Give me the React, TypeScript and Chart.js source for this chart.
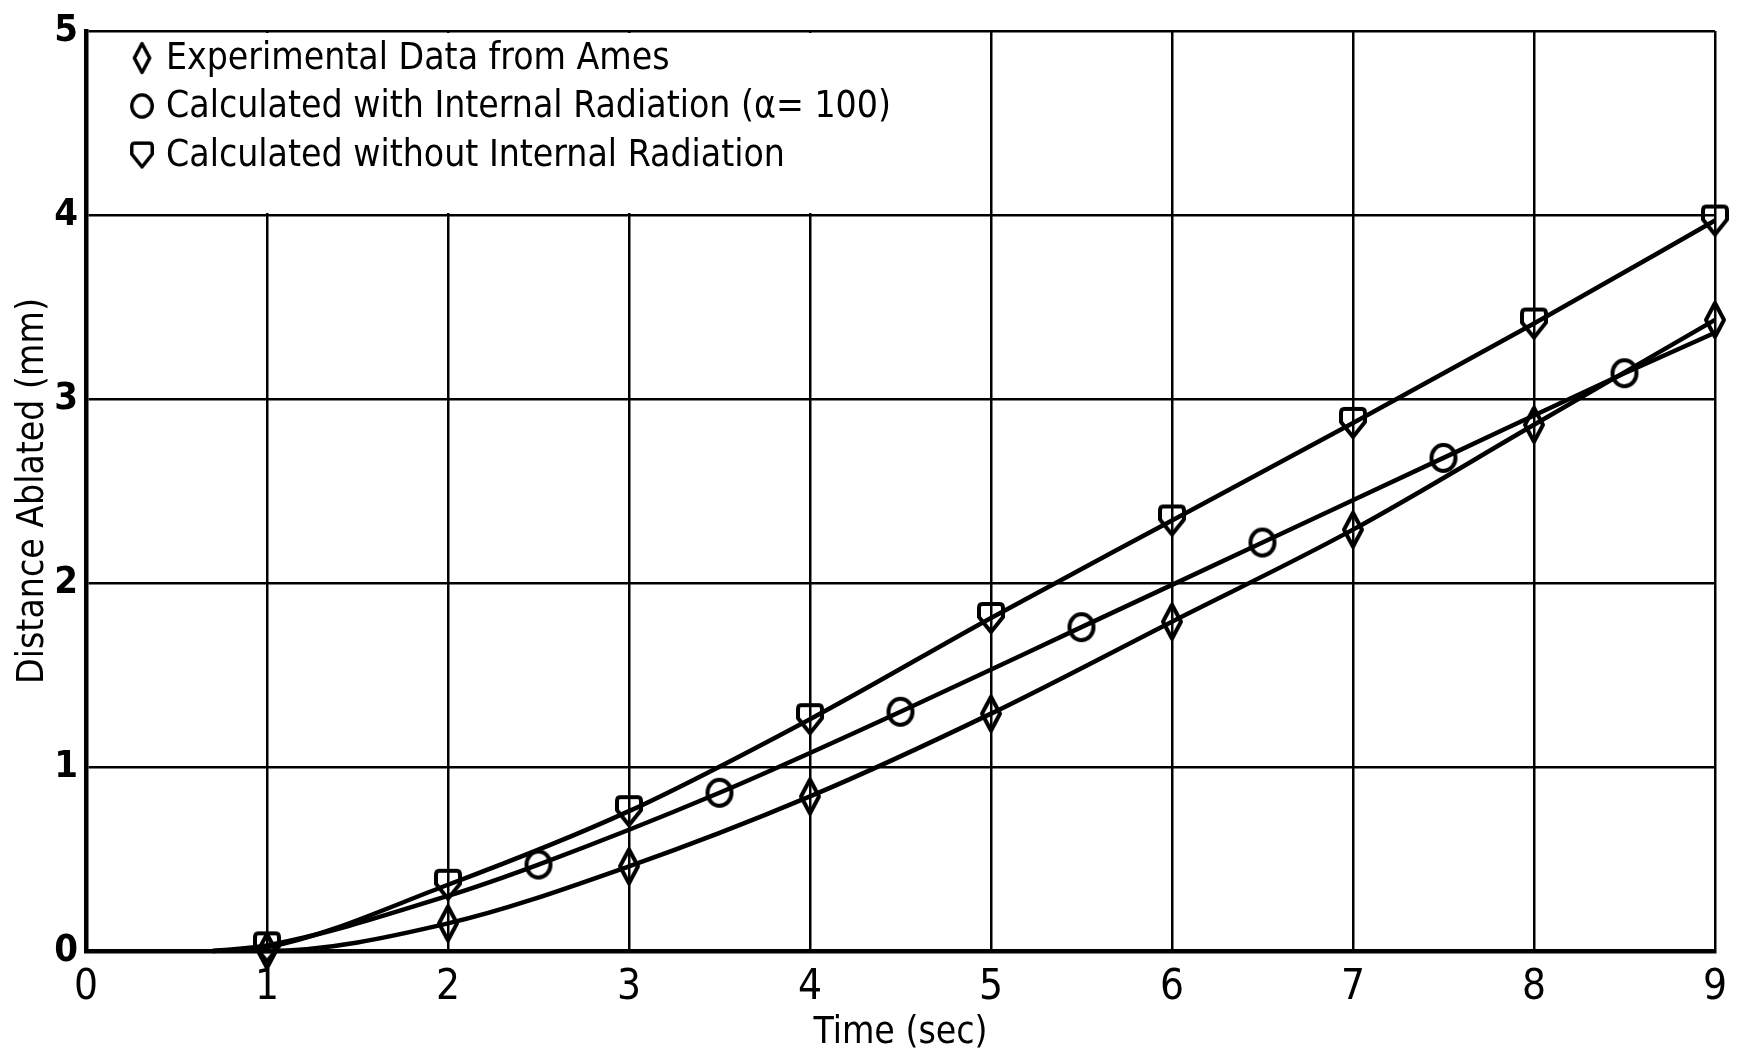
import React, { useEffect, useRef } from "react";
import { Chart, registerables } from "chart.js";

Chart.register(...registerables);

const FONT = '"Liberation Sans Narrow", "DejaVu Sans Condensed", "Roboto Condensed", sans-serif';

// Experimental data from Ames (diamonds)
const expTime = [1, 2, 3, 4, 5, 6, 7, 8, 9];
const expDist = [0.0, 0.15, 0.46, 0.84, 1.29, 1.79, 2.29, 2.86, 3.43];

// Calculated with internal radiation (circles)
const withRadTime = [2.5, 3.5, 4.5, 5.5, 6.5, 7.5, 8.5];
const withRadDist = [0.47, 0.86, 1.3, 1.76, 2.22, 2.68, 3.14];
// unmarked points of the drawn curve
const withRadCurveTime = [0.7, 1, 2, 9];
const withRadCurveDist = [0, 0.03, 0.3, 3.36];

// Calculated without internal radiation (shields)
const noRadTime = [1, 2, 3, 4, 5, 6, 7, 8, 9];
const noRadDist = [0.02, 0.36, 0.76, 1.26, 1.81, 2.34, 2.87, 3.41, 3.97];
const noRadCurveTime = [0.7];
const noRadCurveDist = [0];

const expCurveTime = [0.95];
const expCurveDist = [0];

const legendLabels = [
  "Experimental Data from Ames",
  "Calculated with Internal Radiation (\u03b1= 100)",
  "Calculated without Internal Radiation",
];

const xTitle = "Time (sec)";
const yTitle = "Distance Ablated (mm)";

function makeCanvas(w: number, h: number, draw: (c: CanvasRenderingContext2D) => void) {
  const cv = document.createElement("canvas");
  cv.width = w;
  cv.height = h;
  const c = cv.getContext("2d")!;
  c.strokeStyle = "#000";
  c.lineWidth = 4;
  c.lineJoin = "round";
  draw(c);
  return cv;
}

function buildMarkers() {
  const diamond = makeCanvas(26, 40, (c) => {
    c.beginPath();
    c.moveTo(13, 3);
    c.lineTo(22, 20);
    c.lineTo(13, 37);
    c.lineTo(4, 20);
    c.closePath();
    c.stroke();
  });
  const circle = makeCanvas(32, 34, (c) => {
    c.beginPath();
    c.ellipse(16, 17, 12, 13, 0, 0, Math.PI * 2);
    c.stroke();
  });
  const shield = makeCanvas(32, 36, (c) => {
    c.beginPath();
    c.moveTo(7, 4);
    c.lineTo(25, 4);
    c.quadraticCurveTo(28, 4, 28, 8);
    c.lineTo(28, 17);
    c.lineTo(16, 32);
    c.lineTo(4, 17);
    c.lineTo(4, 8);
    c.quadraticCurveTo(4, 4, 7, 4);
    c.closePath();
    c.stroke();
  });
  return { diamond, circle, shield };
}

function merge(mt: number[], md: number[], ct: number[], cd: number[]) {
  const pts = [
    ...mt.map((x, i) => ({ x, y: md[i], m: true })),
    ...ct.map((x, i) => ({ x, y: cd[i], m: false })),
  ];
  pts.sort((a, b) => a.x - b.x);
  return pts;
}

export default function App() {
  const ref = useRef<HTMLCanvasElement>(null);

  useEffect(() => {
    document.body.style.margin = "0";
    const canvas = ref.current!;
    const mk = buildMarkers();

    const legendPlugin = {
      id: "inlineLegend",
      beforeDatasetsDraw(chart: any) {
        const { ctx, scales } = chart;
        const x = scales.x, y = scales.y;
        const l = x.getPixelForValue(0) + 3;
        const r = x.getPixelForValue(4.6);
        const t = y.getPixelForValue(5) + 2;
        const b = y.getPixelForValue(4) - 2;
        ctx.save();
        ctx.fillStyle = "#fff";
        ctx.fillRect(l, t, r - l, b - t);
        ctx.restore();
      },
      afterDatasetsDraw(chart: any) {
        const { ctx, chartArea } = chart;
        const icons = [mk.diamond, mk.circle, mk.shield];
        const rows = [27, 75, 124];
        ctx.save();
        ctx.fillStyle = "#000";
        ctx.font = `37px ${FONT}`;
        ctx.textBaseline = "middle";
        ctx.textAlign = "left";
        rows.forEach((dy, i) => {
          const cy = chartArea.top + dy;
          const cx = chartArea.left + 56;
          const ic = icons[i];
          const s = 0.85;
          ctx.drawImage(ic, cx - (ic.width * s) / 2, cy - (ic.height * s) / 2, ic.width * s, ic.height * s);
          ctx.fillText(legendLabels[i], chartArea.left + 80, cy + 1);
        });
        ctx.restore();
      },
    };

    const lineDs = (data: any[], icon: HTMLCanvasElement, label: string) => ({
      label,
      data,
      borderColor: "#000",
      backgroundColor: "#000",
      borderWidth: 4.5,
      cubicInterpolationMode: "monotone" as const,
      pointStyle: icon,
      pointRadius: (c: any) => (c.raw && c.raw.m ? 6 : 0),
      pointHoverRadius: 0,
      clip: 30,
    });

    const chart = new Chart(canvas, {
      type: "line",
      data: {
        datasets: [
          lineDs(merge(expTime, expDist, expCurveTime, expCurveDist), mk.diamond, legendLabels[0]),
          lineDs(merge(withRadTime, withRadDist, withRadCurveTime, withRadCurveDist), mk.circle, legendLabels[1]),
          lineDs(merge(noRadTime, noRadDist, noRadCurveTime, noRadCurveDist), mk.shield, legendLabels[2]),
        ],
      },
      options: {
        responsive: false,
        animation: false,
        events: [],
        layout: { padding: { top: 31, right: 9, left: 0, bottom: 0 } },
        plugins: { legend: { display: false }, tooltip: { enabled: false } },
        scales: {
          x: {
            type: "linear",
            min: 0,
            max: 9,
            afterFit: (s: any) => {
              s.height = 103;
            },
            ticks: {
              stepSize: 1,
              color: "#000",
              padding: 12,
              maxRotation: 0,
              font: { family: FONT, size: 42 },
            },
            grid: { color: "#000", lineWidth: 2.5, drawTicks: false },
            border: { color: "#000", width: 4.5 },
            title: {
              display: true,
              text: xTitle,
              color: "#000",
              font: { family: FONT, size: 37, lineHeight: 1 },
              padding: { top: 0, bottom: 2 },
            },
          },
          y: {
            type: "linear",
            min: 0,
            max: 5,
            afterFit: (s: any) => {
              s.width = 86;
            },
            ticks: {
              stepSize: 1,
              color: "#000",
              padding: 8,
              font: { family: FONT, size: 38, weight: "bold" },
            },
            grid: { color: "#000", lineWidth: 2.5, drawTicks: false },
            border: { color: "#000", width: 4.5 },
            title: {
              display: true,
              text: yTitle,
              color: "#000",
              font: { family: FONT, size: 37, lineHeight: 1.2 },
              padding: { top: 11, bottom: 0 },
            },
          },
        },
      },
      plugins: [legendPlugin],
    });

    return () => chart.destroy();
  }, []);

  return (
    <canvas
      ref={ref}
      width={1739}
      height={1054}
      style={{ display: "block", width: 1739, height: 1054 }}
    />
  );
}
